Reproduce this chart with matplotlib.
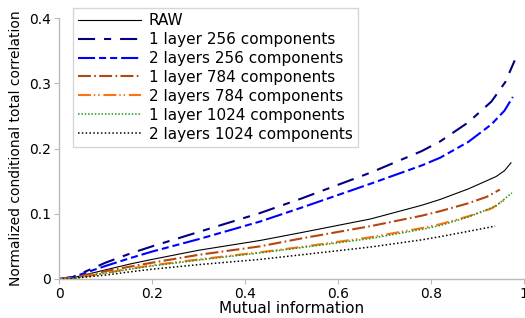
import matplotlib
matplotlib.use("Agg")
import matplotlib.pyplot as plt
from matplotlib.ticker import FuncFormatter

labels = ["RAW", "1 layer 256 components", "2 layers 256 components",
          "1 layer 784 components", "2 layers 784 components",
          "1 layer 1024 components", "2 layers 1024 components"]

raw_x = [0, 0.03, 0.1, 0.153, 0.2, 0.3, 0.432, 0.52, 0.67, 0.78, 0.82, 0.88, 0.94, 0.958, 0.972]
raw_y = [0, 0.002, 0.014, 0.023, 0.030, 0.044, 0.059, 0.071, 0.092, 0.113, 0.122, 0.138, 0.157, 0.166, 0.178]

l1_256_x = [0, 0.03, 0.1, 0.153, 0.2, 0.3, 0.432, 0.52, 0.67, 0.78, 0.82, 0.88, 0.93, 0.96, 0.98]
l1_256_y = [0, 0.003, 0.025, 0.039, 0.050, 0.072, 0.101, 0.123, 0.163, 0.196, 0.211, 0.240, 0.272, 0.302, 0.335]

l2_256_x = [0, 0.03, 0.1, 0.153, 0.2, 0.3, 0.432, 0.52, 0.67, 0.78, 0.82, 0.88, 0.93, 0.958, 0.976]
l2_256_y = [0, 0.003, 0.020, 0.032, 0.042, 0.061, 0.088, 0.109, 0.146, 0.174, 0.186, 0.210, 0.237, 0.258, 0.279]

l1_784_x = [0, 0.03, 0.1, 0.153, 0.2, 0.3, 0.432, 0.52, 0.67, 0.78, 0.82, 0.88, 0.92, 0.948]
l1_784_y = [0, 0.002, 0.012, 0.019, 0.025, 0.037, 0.050, 0.062, 0.081, 0.097, 0.104, 0.116, 0.126, 0.137]

l2_784_x = [0, 0.03, 0.1, 0.153, 0.2, 0.3, 0.432, 0.52, 0.67, 0.78, 0.82, 0.88, 0.93, 0.96]
l2_784_y = [0, 0.001, 0.009, 0.016, 0.021, 0.030, 0.041, 0.049, 0.064, 0.078, 0.084, 0.096, 0.108, 0.122]

l1_1024_x = [0, 0.03, 0.1, 0.153, 0.2, 0.3, 0.432, 0.52, 0.67, 0.78, 0.82, 0.88, 0.94, 0.974]
l1_1024_y = [0, 0.001, 0.009, 0.015, 0.020, 0.029, 0.040, 0.048, 0.062, 0.076, 0.082, 0.095, 0.112, 0.132]

l2_1024_x = [0, 0.03, 0.1, 0.153, 0.2, 0.3, 0.432, 0.52, 0.67, 0.78, 0.82, 0.88, 0.938]
l2_1024_y = [0, 0.001, 0.006, 0.011, 0.015, 0.022, 0.030, 0.037, 0.049, 0.060, 0.065, 0.073, 0.081]

xticks = [0, 0.2, 0.4, 0.6, 0.8, 1]
yticks = [0, 0.1, 0.2, 0.3, 0.4]

plt.rcParams['font.family'] = ['DejaVu Sans']
fig = plt.figure(figsize=(5.25, 3.18), dpi=100)
ax = fig.add_axes([59/525, 1-279/318, 465/525, 261/318])

ax.plot(raw_x, raw_y, color='black', lw=0.8, label=labels[0])
ax.plot(l1_256_x, l1_256_y, color='#000080', lw=1.5, dashes=(8.2, 4.3, 3.4, 4.3), label=labels[1])
ax.plot(l2_256_x, l2_256_y, color='#0000ff', lw=1.5, dashes=(8.2, 1.9, 3.4, 1.9, 3.4, 1.9), label=labels[2])
ax.plot(l1_784_x, l1_784_y, color='#b5460f', lw=1.5, dashes=(6.2, 1.6, 0.8, 1.6), label=labels[3])
ax.plot(l2_784_x, l2_784_y, color='#ff7212', lw=1.5, dashes=(6.2, 1.4, 0.7, 1.4, 0.7, 1.8), label=labels[4])
ax.plot(l1_1024_x, l1_1024_y, color='#1a9a1a', lw=1.1, dashes=(1.0, 1.2), label=labels[5])
ax.plot(l2_1024_x, l2_1024_y, color='black', lw=1.1, dashes=(1.0, 1.5), label=labels[6])

ax.set_xlim(0, 1)
ax.set_ylim(0, 0.4)
ax.set_xticks(xticks)
ax.set_yticks(yticks)
fmt = FuncFormatter(lambda v, p: ('%g' % v))
ax.xaxis.set_major_formatter(fmt)
ax.yaxis.set_major_formatter(fmt)
for s in ['top', 'right']:
    ax.spines[s].set_visible(False)
for s in ['left', 'bottom']:
    ax.spines[s].set_color('#bbbbbb')
    ax.spines[s].set_linewidth(1.0)
ax.tick_params(colors='#bbbbbb', labelcolor='black', labelsize=10, length=3.5, width=0.8, pad=2.5)
ax.set_xlabel("Mutual information", fontsize=11, labelpad=0)
ax.set_ylabel("Normalized conditional total correlation", fontsize=10, labelpad=4)

leg = ax.legend(loc='upper left', bbox_to_anchor=(0.03, 1.04), fontsize=11, frameon=True,
                fancybox=False, edgecolor='#cccccc', handlelength=4.1, handletextpad=0.5,
                labelspacing=0.26, borderpad=0.35, borderaxespad=0.0)
leg.get_frame().set_linewidth(1.0)

fig.savefig("out.png", dpi=100)
